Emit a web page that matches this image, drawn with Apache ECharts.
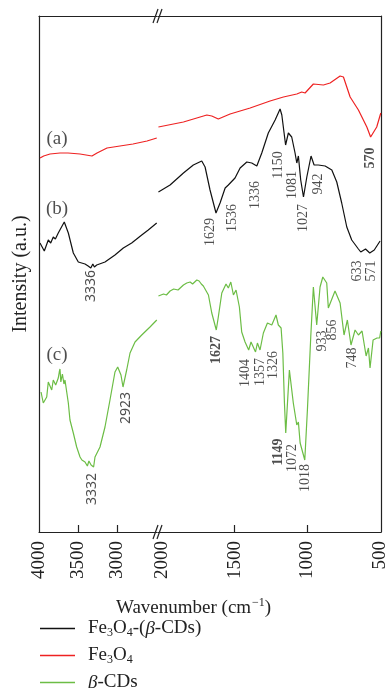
<!DOCTYPE html>
<html>
<head>
    <meta charset="utf-8">
    <script src="https://cdn.jsdelivr.net/npm/echarts@6/dist/echarts.min.js"></script>
</head>
<body style="margin: 0">
<div id="container" style="width: 387px; height: 688px"></div>
<script type="text/javascript">
    // spectra, [wavenumber, intensity (a.u.)], split at the axis break
    var fe3o4Left = [[3987,374],[3940,376],[3859,378],[3731,379],[3628,379],[3474,378],[3321,376],[3256,379],[3128,384],[2962,386],[2795,388],[2615,391],[2490,394]];
    var fe3o4Right = [[2025,405],[1853,410],[1692,417],[1658,416],[1613,413],[1532,418],[1394,424],[1257,431],[1165,435],[1073,438],[1039,440],[1016,439],[959,448],[890,447],[844,449],[775,456],[752,455],[706,435],[649,422],[591,405],[565,395],[523,405],[495,419]];

    var compLeft = [[3987,289],[3932,281],[3881,292],[3850,289],[3817,295],[3790,293],[3753,299],[3676,310],[3624,299],[3560,279],[3496,270],[3410,268],[3370,266],[3350,268],[3336,264],[3310,268],[3290,265],[3260,267],[3154,270],[3026,277],[2919,284],[2812,289],[2683,297],[2599,302],[2491,309]];
    var compRight = [[2025,340],[1945,347],[1853,359],[1785,367],[1727,371],[1704,365],[1670,342],[1629,319],[1601,329],[1566,344],[1544,347],[1532,345],[1498,354],[1463,364],[1417,370],[1383,369],[1348,366],[1314,379],[1269,399],[1222,412],[1188,423],[1176,417],[1150,387],[1131,399],[1108,395],[1085,379],[1073,369],[1062,376],[1046,352],[1027,335],[1004,355],[975,376],[954,367],[925,367],[878,366],[832,362],[798,350],[764,329],[729,305],[695,292],[649,283],[633,280],[600,283],[571,279],[540,282],[500,291]];

    var cdLeft = [[3974,140],[3945,129],[3901,135],[3881,150],[3837,142],[3817,152],[3786,147],[3770,145],[3753,154],[3740,160],[3731,163],[3720,150],[3709,149],[3700,158],[3680,148],[3667,152],[3624,129],[3603,112],[3560,99],[3517,85],[3474,75],[3450,72],[3410,70],[3380,66],[3360,71],[3332,67],[3300,65],[3282,75],[3218,85],[3154,105],[3090,132],[3026,160],[2991,165],[2949,157],[2923,145],[2876,162],[2833,179],[2769,190],[2683,197],[2577,205],[2490,212]];
    var cdRight = [[2025,236],[1990,238],[1970,237],[1945,241],[1920,243],[1890,242],[1853,247],[1830,249],[1807,250],[1790,248],[1761,252],[1745,251],[1730,248],[1716,246],[1681,237],[1658,219],[1627,202],[1613,215],[1589,239],[1560,248],[1544,244],[1527,250],[1509,237],[1491,242],[1468,225],[1452,200],[1429,190],[1404,182],[1388,190],[1357,180],[1344,189],[1326,182],[1303,199],[1275,209],[1245,207],[1216,217],[1200,207],[1181,204],[1169,179],[1158,129],[1149,99],[1124,162],[1097,129],[1073,107],[1062,110],[1050,89],[1018,72],[1000,122],[977,195],[959,245],[936,207],[913,245],[894,255],[867,249],[856,224],[810,241],[775,229],[748,197],[725,212],[700,187],[672,202],[649,197],[624,201],[596,176],[580,184],[569,164],[548,192],[521,194],[503,194],[495,201]];

    // peak labels: [wavenumber, intensity, text, bold]
    var rightLabels = [[569,374,'570',1],[1670,300,'1629',0],[1519,314,'1536',0],[1361,337,'1336',0],[1202,367,'1150',0],[1102,347,'1081',0],[1030,314,'1027',0],[927,348,'942',0],[659,261,'633',0],[562,261,'571',0],[1629,182,'1627',1],[1429,159,'1404',0],[1326,160,'1357',0],[1237,167,'1326',0],[1202,80,'1149',1],[1106,74,'1072',0],[1016,54,'1018',0],[900,191,'933',0],[831,202,'856',0],[693,174,'748',0]];
    var leftLabels = [[3333,246,'3336',0],[3320,43,'3332',0],[2885,124,'2923',0]];
    var curveTags = [[3769,393,'(a)'],[3769,323,'(b)'],[3769,177,'(c)']];

    var leftTicks = [3500, 3000];
    var leftTickLabels = [4000, 3500, 3000];
    var rightTicks = [1500, 1000];
    var rightTickLabels = [2000, 1500, 1000, 500];

    var names = ['Fe3O4-(β-CDs)', 'Fe3O4', 'β-CDs'];
    var colors = ['#111111', '#ee2222', '#6cbd45'];

    var serif = '"Liberation Serif", "DejaVu Serif", serif';
    var ink = '#222';

    var dom = document.getElementById("container");
    var myChart = echarts.init(dom);

    function lineSeries(name, data, idx, color) {
        return {
            name: name, type: 'line', xAxisIndex: idx, yAxisIndex: idx,
            data: data, symbol: 'none', z: 3,
            lineStyle: {width: 1.2, color: color},
            itemStyle: {color: color}
        };
    }
    function labelSeries(rows, idx, family, rotate, size) {
        return {
            type: 'scatter', xAxisIndex: idx, yAxisIndex: idx, silent: true, z: 5,
            symbolSize: 1, itemStyle: {color: 'transparent'},
            data: rows.map(function (r) {
                return {value: [r[0], r[1]], label: {formatter: r[2], fontWeight: r[3] ? 'bold' : 'normal'}};
            }),
            label: {show: true, position: 'inside', rotate: rotate, fontFamily: family, fontSize: size, color: ink}
        };
    }
    function bottomAxis(grid, min, max, ticks, labels) {
        return {
            type: 'value', gridIndex: grid, min: min, max: max, inverse: true, position: 'bottom',
            axisLine: {lineStyle: {color: ink, width: 1.2}},
            axisTick: {show: true, inside: true, length: 7, customValues: ticks, lineStyle: {color: ink, width: 1.2}},
            axisLabel: {
                customValues: labels, rotate: 90, margin: 9, fontFamily: serif, fontSize: 19, color: ink,
                formatter: function (v) { return String(v); }
            },
            splitLine: {show: false}
        };
    }
    function topAxis(grid, min, max) {
        return {
            type: 'value', gridIndex: grid, min: min, max: max, inverse: true, position: 'top',
            axisLine: {lineStyle: {color: ink, width: 1.2}},
            axisTick: {show: false}, axisLabel: {show: false}, splitLine: {show: false}
        };
    }

    var legendText = {
        'Fe3O4-(β-CDs)': '{n|Fe}{s|3}{n|O}{s|4}{n|-(}{i|β}{n|-CDs)}',
        'Fe3O4': '{n|Fe}{s|3}{n|O}{s|4}',
        'β-CDs': '{i|β}{n|-CDs}'
    };
    var legendRows = [619, 646, 673];
    var legends = names.map(function (name, i) {
        return {
            data: [name], orient: 'vertical', left: 40, top: legendRows[i], padding: 0,
            icon: 'rect', itemWidth: 35, itemHeight: 1.5,
            formatter: function (n) { return legendText[n]; },
            textStyle: {
                fontFamily: serif, fontSize: 19, color: ink, padding: [0, 0, 0, 8],
                rich: {
                    n: {fontFamily: serif, fontSize: 19, color: ink},
                    s: {fontFamily: serif, fontSize: 12, color: ink, padding: [8, 0, 0, 0]},
                    i: {fontFamily: serif, fontSize: 19, color: ink, fontStyle: 'italic'}
                }
            }
        };
    });

    myChart.setOption({
        animation: false,
        title: {
            text: 'Wavenumber (cm{sup|−1})',
            left: 111, top: 592,
            textStyle: {
                fontFamily: serif, fontSize: 19, fontWeight: 'normal', color: ink,
                rich: {sup: {fontFamily: serif, fontSize: 12, color: ink, padding: [0, 0, 10, 1]}}
            }
        },
        legend: legends,
        grid: [
            {left: 39, width: 118, top: 16, height: 516, outerBoundsMode: 'none', containLabel: false},
            {left: 158, width: 223, top: 16, height: 516, outerBoundsMode: 'none', containLabel: false}
        ],
        xAxis: [
            bottomAxis(0, 2487.2, 4000, leftTicks, leftTickLabels),
            bottomAxis(1, 493.6, 2028, rightTicks, rightTickLabels),
            topAxis(0, 2487.2, 4000),
            topAxis(1, 493.6, 2028)
        ],
        yAxis: [
            {
                type: 'value', gridIndex: 0, min: 0, max: 516, position: 'left',
                name: 'Intensity (a.u.)', nameLocation: 'middle', nameGap: 8, nameRotate: 90,
                nameTextStyle: {fontFamily: serif, fontSize: 20, color: ink},
                axisLine: {show: true, lineStyle: {color: ink, width: 1.2}},
                axisTick: {show: false}, axisLabel: {show: false}, splitLine: {show: false}
            },
            {
                type: 'value', gridIndex: 1, min: 0, max: 516, position: 'right',
                axisLine: {show: true, lineStyle: {color: ink, width: 1.2}},
                axisTick: {show: false}, axisLabel: {show: false}, splitLine: {show: false}
            }
        ],
        graphic: [
            {type: 'line', shape: {x1: 153, y1: 23, x2: 158, y2: 9}, style: {stroke: ink, lineWidth: 1.2}},
            {type: 'line', shape: {x1: 157, y1: 23, x2: 162, y2: 9}, style: {stroke: ink, lineWidth: 1.2}},
            {type: 'line', shape: {x1: 153, y1: 539, x2: 158, y2: 525}, style: {stroke: ink, lineWidth: 1.2}},
            {type: 'line', shape: {x1: 157, y1: 539, x2: 162, y2: 525}, style: {stroke: ink, lineWidth: 1.2}}
        ],
        series: [
            lineSeries(names[0], compLeft, 0, colors[0]),
            lineSeries(names[0], compRight, 1, colors[0]),
            lineSeries(names[1], fe3o4Left, 0, colors[1]),
            lineSeries(names[1], fe3o4Right, 1, colors[1]),
            lineSeries(names[2], cdLeft, 0, colors[2]),
            lineSeries(names[2], cdRight, 1, colors[2]),
            labelSeries(rightLabels, 1, serif, 90, 14),
            labelSeries(leftLabels, 0, '"Noto Sans", sans-serif', 90, 14),
            labelSeries(curveTags, 0, serif, 0, 19)
        ]
    });
</script>
</body>
</html>
